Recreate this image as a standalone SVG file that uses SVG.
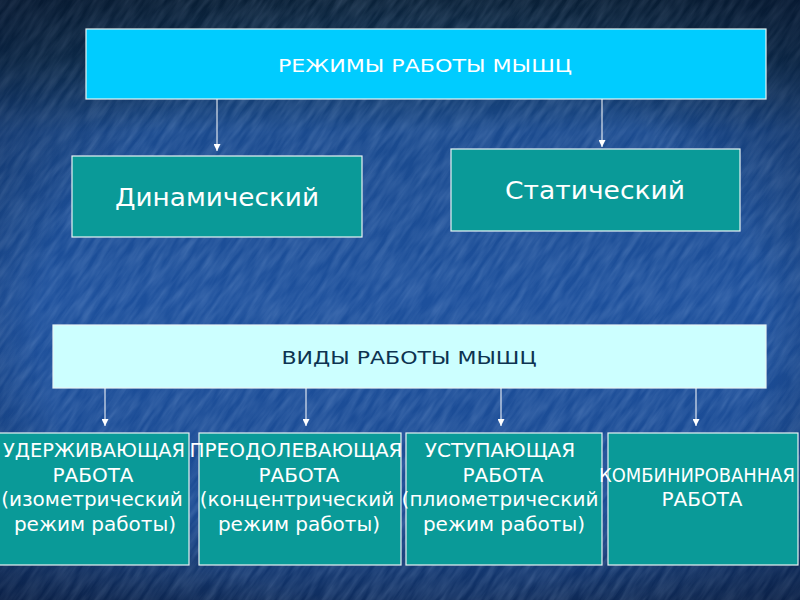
<svg xmlns="http://www.w3.org/2000/svg" width="800" height="600" viewBox="0 0 800 600">
  <defs>
    <linearGradient id="bg" x1="0" y1="0" x2="0" y2="1">
      <stop offset="0" stop-color="#0b2640"/>
      <stop offset="0.1" stop-color="#0f3358"/>
      <stop offset="0.22" stop-color="#1a4a8e"/>
      <stop offset="0.5" stop-color="#1d509c"/>
      <stop offset="0.85" stop-color="#1a4a92"/>
      <stop offset="1" stop-color="#0f2d5e"/>
    </linearGradient>
    <radialGradient id="vig" cx="50%" cy="55%" r="75%">
      <stop offset="0.6" stop-color="#000000" stop-opacity="0"/>
      <stop offset="1" stop-color="#000820" stop-opacity="0.45"/>
    </radialGradient>
    <filter id="tex" x="0" y="0" width="100%" height="100%">
      <feTurbulence type="fractalNoise" baseFrequency="0.03 0.18" numOctaves="3" seed="7" result="n"/>
      <feColorMatrix type="matrix" values="0 0 0 0 0.55  0 0 0 0 0.72  0 0 0 0 1  0 0 0 0.3 -0.08"/>
    </filter>
    <marker id="arr" viewBox="0 0 10 10" refX="10" refY="5" markerWidth="7" markerHeight="7" markerUnits="userSpaceOnUse" orient="auto">
      <path d="M0,0 L10,5 L0,10 z" fill="#ffffff"/>
    </marker>
    <style>
      .box { stroke: #e8f4f4; stroke-width: 1.2; }
      .head { fill: #00ccff; }
      .teal { fill: #0a9a98; }
      .light { fill: #ccffff; }
      .t { font-family: "DejaVu Sans", "Verdana", sans-serif; fill: #ffffff; text-anchor: middle; }
      .big { font-size: 24px; }
      .mid { font-size: 17px; }
      .sm { font-size: 20px; }
      .dark { fill: #0d3350; }
      .conn line { stroke: #ffffff; stroke-width: 1; marker-end: url(#arr); }
    </style>
  </defs>

  <rect width="800" height="600" fill="url(#bg)"/>
  <g transform="rotate(-55 400 300)">
    <rect x="-300" y="-300" width="1400" height="1200" filter="url(#tex)"/>
  </g>
  <rect width="800" height="600" fill="url(#vig)"/>

  <g id="rezhimy">
    <rect class="box head" x="86" y="29" width="680" height="70"/>
    <text class="t mid" x="425" y="72" textLength="294" lengthAdjust="spacingAndGlyphs">РЕЖИМЫ РАБОТЫ МЫШЦ</text>
  </g>

  <g id="dinamicheskiy">
    <rect class="box teal" x="72" y="156" width="290" height="81"/>
    <text class="t big" x="217" y="206" textLength="204" lengthAdjust="spacingAndGlyphs">Динамический</text>
  </g>

  <g id="staticheskiy">
    <rect class="box teal" x="451" y="149" width="289" height="82"/>
    <text class="t big" x="595" y="199" textLength="180" lengthAdjust="spacingAndGlyphs">Статический</text>
  </g>

  <g id="vidy">
    <rect class="box light" x="53" y="325" width="713" height="63"/>
    <text class="t mid dark" x="409" y="364" textLength="255" lengthAdjust="spacingAndGlyphs">ВИДЫ РАБОТЫ МЫШЦ</text>
  </g>

  <g id="uderzhivayushchaya">
    <rect class="box teal" x="-2" y="433" width="191" height="132"/>
    <text class="t sm" x="94" y="457" textLength="182" lengthAdjust="spacingAndGlyphs">УДЕРЖИВАЮЩАЯ</text>
    <text class="t sm" x="93" y="482">РАБОТА</text>
    <text class="t sm" x="92" y="506">(изометрический</text>
    <text class="t sm" x="95" y="531">режим работы)</text>
  </g>

  <g id="preodolevayushchaya">
    <rect class="box teal" x="199" y="433" width="202" height="132"/>
    <text class="t sm" x="296" y="457">ПРЕОДОЛЕВАЮЩАЯ</text>
    <text class="t sm" x="299" y="482">РАБОТА</text>
    <text class="t sm" x="297" y="506">(концентрический</text>
    <text class="t sm" x="299" y="531">режим работы)</text>
  </g>

  <g id="ustupayushchaya">
    <rect class="box teal" x="406" y="433" width="196" height="132"/>
    <text class="t sm" x="500" y="457">УСТУПАЮЩАЯ</text>
    <text class="t sm" x="503" y="482">РАБОТА</text>
    <text class="t sm" x="500" y="506">(плиометрический</text>
    <text class="t sm" x="504" y="531">режим работы)</text>
  </g>

  <g id="kombinirovannaya">
    <rect class="box teal" x="608" y="433" width="190" height="132"/>
    <text class="t sm" x="697" y="482" textLength="196" lengthAdjust="spacingAndGlyphs">КОМБИНИРОВАННАЯ</text>
    <text class="t sm" x="702" y="506">РАБОТА</text>
  </g>

  <g id="connectors" class="conn">
    <line x1="217" y1="99" x2="217" y2="151"/>
    <line x1="602" y1="99" x2="602" y2="147"/>
    <line x1="105" y1="388" x2="105" y2="426"/>
    <line x1="306" y1="388" x2="306" y2="426"/>
    <line x1="501" y1="388" x2="501" y2="426"/>
    <line x1="696" y1="388" x2="696" y2="426"/>
  </g>
</svg>
